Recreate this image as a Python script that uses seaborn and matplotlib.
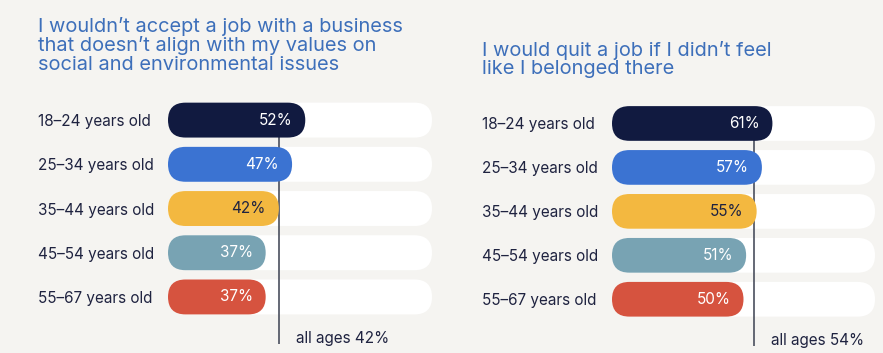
import matplotlib.pyplot as plt
import seaborn as sns
from matplotlib.patches import FancyBboxPatch

# data
ages = ["18–24 years old", "25–34 years old", "35–44 years old",
        "45–54 years old", "55–67 years old"]
values_left = [52, 47, 42, 37, 37]
values_right = [61, 57, 55, 51, 50]
avg_left = 42
avg_right = 54
title_left = ("I wouldn’t accept a job with a business\n"
              "that doesn’t align with my values on\n"
              "social and environmental issues")
title_right = "I would quit a job if I didn’t feel\nlike I belonged there"

bar_colors = ["#111a40", "#3b73d2", "#f3b840", "#78a3b3", "#d6533f"]
pct_colors = ["white", "white", "#1f2340", "white", "white"]
bg = "#f5f4f1"
title_blue = "#3d6fba"
dark = "#1f2340"

sns.set_theme(style="white")
plt.rcParams['font.family'] = ['Inter', 'DejaVu Sans']

W, H = 883, 353
fig = plt.figure(figsize=(W / 100, H / 100), dpi=100, facecolor=bg)


def px_axes(x0, y0, x1, y1):
    return fig.add_axes([x0 / W, 1 - y1 / H, (x1 - x0) / W, (y1 - y0) / H])


def round_bars(ax, patches, zorder):
    # swap seaborn's rectangles for pill shapes with round ends
    p0 = ax.transData.transform((0, 0))
    p1 = ax.transData.transform((1, 1))
    sx = abs(p1[0] - p0[0])
    sy = abs(p1[1] - p0[1])
    m = sx / sy
    for p in patches:
        x, y, w, h = p.get_x(), p.get_y(), p.get_width(), p.get_height()
        r = h / m / 2
        fb = FancyBboxPatch((x, y), w, h,
                            boxstyle=f"round,pad=0,rounding_size={r}",
                            mutation_aspect=m, facecolor=p.get_facecolor(),
                            edgecolor="none", zorder=zorder)
        p.remove()
        ax.add_patch(fb)


def panel(ax, values, avg):
    ax.set_facecolor("none")
    sns.barplot(x=[100] * len(ages), y=ages, color="white", width=0.79,
                saturation=1, orient="h", ax=ax)
    track = list(ax.patches)
    sns.barplot(x=values, y=ages, hue=ages, palette=bar_colors, width=0.79,
                saturation=1, orient="h", legend=False, ax=ax)
    bars = [p for p in ax.patches if p not in track]
    ax.set_xlim(0, 100)
    ax.set_ylim(5.2, -0.5)
    round_bars(ax, track, 1)
    round_bars(ax, bars, 3)
    ax.vlines(avg, 0, 5.06, color="#4a4f5e", lw=1.2, zorder=2)
    for i, v in enumerate(values):
        ax.annotate(f"{v}%", xy=(v, i), xytext=(-13, 0),
                    textcoords="offset pixels", ha="right", va="center",
                    fontsize=11, color=pct_colors[i], zorder=4)
    ax.annotate(f"all ages {avg}%", xy=(avg, 4.93), xytext=(17, 0),
                textcoords="offset pixels", ha="left", va="center",
                fontsize=11, color=dark)
    sns.despine(ax=ax, left=True, bottom=True)
    ax.set_xlabel("")
    ax.set_ylabel("")
    ax.set_xticks([])
    ax.tick_params(axis="y", length=0, pad=93.6, labelsize=11,
                   labelcolor=dark)
    for lab in ax.get_yticklabels():
        lab.set_horizontalalignment("left")


ax1 = px_axes(168, 98, 432, 350)
panel(ax1, values_left, avg_left)
ax2 = px_axes(612, 101.5, 875, 352)
panel(ax2, values_right, avg_right)

fig.text(38 / W, 1 - 17 / H, title_left, ha="left", va="top", fontsize=14.4,
         color=title_blue, linespacing=1.02)
fig.text(482 / W, 1 - 41 / H, title_right, ha="left", va="top", fontsize=14.4,
         color=title_blue, linespacing=1.02)

fig.savefig("out.png", dpi=100, facecolor=bg)
